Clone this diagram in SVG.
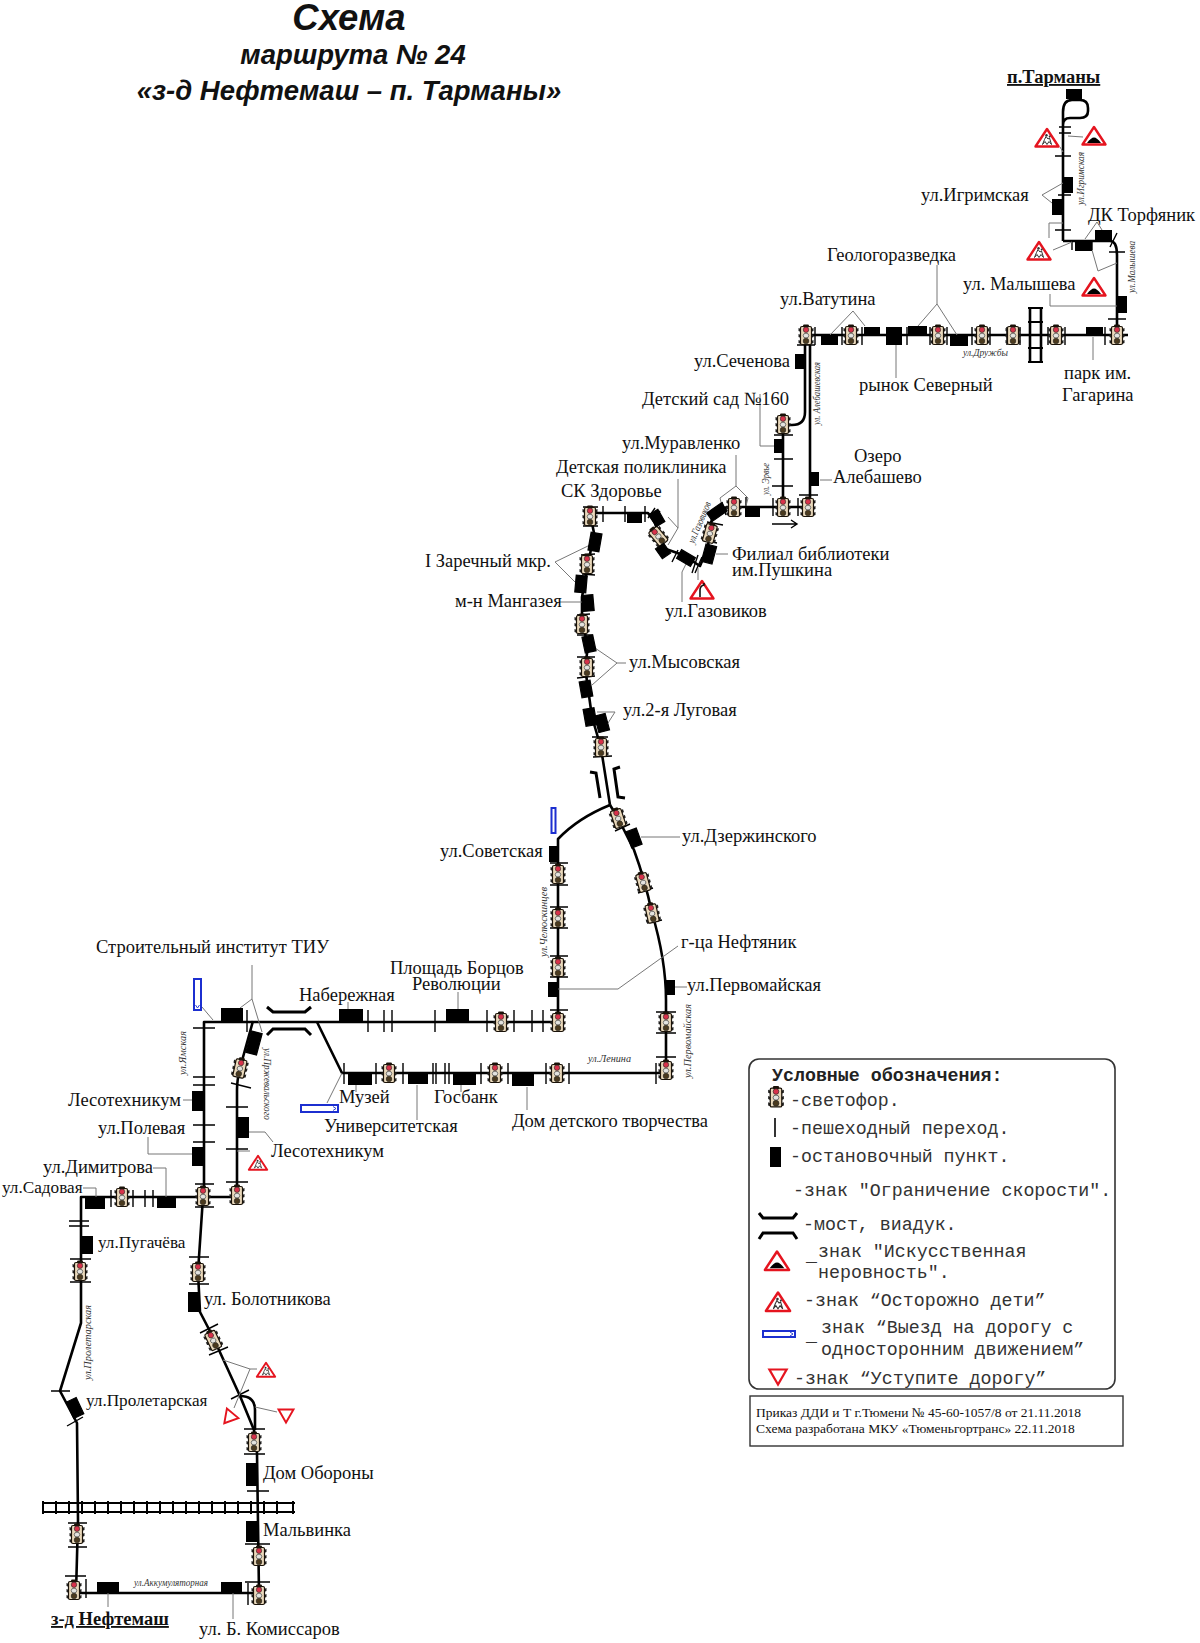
<svg xmlns="http://www.w3.org/2000/svg" width="1200" height="1643" viewBox="0 0 1200 1643">
<style>
text{font-family:"Liberation Serif",serif;fill:#111}
.t{font-size:18.5px}
.t2{font-size:17.2px}
.h{font-family:"Liberation Sans",sans-serif;font-weight:bold;font-style:italic;font-size:27.5px;text-anchor:middle}
.b{font-size:18.5px;font-weight:bold;text-decoration:underline}
.i{font-size:10.5px;font-style:italic;fill:#333}
.m{font-family:"Liberation Mono",monospace;font-size:18.3px;fill:#333}
.o{font-size:13.5px}
.r{fill:none;stroke:#000;stroke-width:2.6;stroke-linejoin:round}
.r2{fill:none;stroke:#000;stroke-width:2}
.x{fill:none;stroke:#000;stroke-width:1.4}
.g{fill:none;stroke:#777;stroke-width:1}
.v{fill:none;stroke:#000;stroke-width:3}
.s{fill:#000}
.sr{stroke:#000;stroke-width:1.2}
.bl{fill:#fff;stroke:#1c2fd0;stroke-width:2}
.bla{fill:none;stroke:#1c2fd0;stroke-width:.9}
</style>
<defs>
<g id="tl">
<path d="M-7.500 -7l2.500 1v3l-2.500-1zM7.500 -7l-2.500 1v3l2.500-1zM-7.500 -1l2.500 1v3l-2.500-1zM7.500 -1l-2.500 1v3l2.500-1zM-7.500 5l2.500 1v3l-2.500-1zM7.500 5l-2.500 1v3l2.500-1z" fill="#222"/>
<rect x="-5.500" y="-8.500" width="11" height="18" rx="1.500" fill="#ead9bb" stroke="#1a1208" stroke-width="1.2"/>
<rect x="-3" y="-10.500" width="6" height="3" rx="1.200" fill="#1a1208"/>
<circle cx="0" cy="-5.200" r="2.700" fill="#d8324a" stroke="#222" stroke-width=".6"/>
<ellipse cx="0" cy="0.600" rx="2.800" ry="2.400" fill="#e3e3df" stroke="#444" stroke-width=".7"/>
<circle cx="0" cy="6" r="2.800" fill="#4b3a1e" stroke="#222" stroke-width=".6"/>
</g>
<g id="tri"><path d="M-11.500 8.500L0 -9L11.500 8.500Z" fill="#fff" stroke="#e5141f" stroke-width="2.400" stroke-linejoin="round"/></g>
<g id="bump"><use href="#tri"/><path d="M-7 7Q-3 1.500 0 1.500Q3 1.500 7 7Z" fill="#000"/></g>
<g id="kids"><use href="#tri"/><path d="M-4.500 6.500L-2.500 1.500L-1 -1.500L1 1L2.500 0L4.500 6.500L2 3.500L0 6.500L-2 3.500Z" fill="none" stroke="#333" stroke-width="1"/><circle cx="-0.500" cy="-2.800" r="1.200" fill="#333"/><circle cx="2.700" cy="-1.400" r="1" fill="#333"/></g>
<path id="yield" d="M-7.500 -6.500H7.500L0 6.500Z" fill="#fff" stroke="#e5141f" stroke-width="1.900"/>
</defs>

<g id="title">
<text class="h" x="349" y="30" style="font-size:36.500px">Схема</text>
<text class="h" x="353" y="64">маршрута № 24</text>
<text class="h" x="349" y="100">«з-д Нефтемаш – п. Тарманы»</text>
</g>

<g id="connectors">
<g id="routes">
<path class="r" d="M1063 241V112Q1063 100 1072 100H1080Q1088 100 1088 108V111Q1088 118 1080 118H1070Q1063 118 1063 125"/>
<path class="r" d="M1063 241H1110Q1117 241 1117 255V335"/>
<path class="r" d="M1128 335H806"/>
<path class="r" d="M805 335V412Q805 425 792 425H783V507"/>
<path class="r" d="M810 335V507H727L713 515L710 527L708 547L700 566L683 555L663 548L655 523L648 513H590L594 533L582 597V620L588 647L585 667L592 717L601 748L610 805"/>
<path class="r" d="M610 805Q578 818 558 839V1022"/>
<path class="r" d="M610 805L618 818L634 850Q645 880 652 913Q666 960 666 1000V1073H342L317 1022"/>
<path class="r" d="M558 1022H204V1197"/>
<path class="r" d="M253 1021L240 1068Q237 1080 237 1090V1197H81V1323L60 1391L77 1423L78 1520L76 1593"/>
<path class="r" d="M76 1593H259L257 1453L254 1430L240 1396L213 1337L200 1312L198 1272L203 1197"/>
<path class="r" d="M240 1396Q255 1396 255 1410V1430"/>
</g>
<g id="crossings">
<path class="x" d="M1059 127H1071M1059 133H1071M1055 156H1071M1058 195H1071M1055 230H1071M1072 240V250M1092 240V250M1110 247L1117 233M1109 252H1125M1108 319H1126"/>
<path class="x" d="M815 327V345M842 327V345M862 327V345M907 327V345M930 327V345M947 327V345M972 327V345M990 327V345M1007 327V345M1020 327V345M1048 327V345M1065 327V345M1105 327V345M797 345H815"/>
<path class="x" d="M774 435H793M774 459H793M772 486H793M799 495H818M746 497V515M773 498V516M798 498V516M603 506V522M625 506V522M645 506V522M648 518L655 508M653 521L660 511M707 522L723 525M703 540L717 543M672 562L678 550M692 573L698 555M695 573L702 557M722 502L726 515"/>
<path class="x" d="M583 507H598M583 526H598M581 555L595 554M582 574L595 575M577 615L590 614M577 635L593 635M577 657L595 657M577 678L595 676M592 737L608 737M593 757L612 756"/>
<path class="x" d="M615 831L630 824M638 893L653 888M647 923L662 920"/>
<path class="x" d="M550 863H568M550 885H568M550 907H568M550 928H568M550 956H568M550 977H568M550 1010H568M656 1012H676M656 1033H676M656 1057H676"/>
<path class="x" d="M368 1010V1032M384 1010V1032M392 1010V1032M435 1010V1032M487 1010V1032M514 1010V1032M532 1010V1032M543 1010V1032M247 1010V1032"/>
<path class="x" d="M344 1063V1084M376 1063V1084M403 1063V1084M433 1063V1084M436 1063V1084M445 1063V1084M449 1063V1084M481 1063V1084M508 1063V1084M546 1063V1084M569 1063V1084M656 1063V1084"/>
<path class="x" d="M193 1028H215M193 1077H215M193 1085H215M193 1125H215M193 1142H215M195 1184H214M195 1207H214M226 1107H248M226 1149H248M226 1182H248M111 1190V1207M133 1190V1207M145 1190V1207M153 1190V1207M69 1221H89M69 1226H89M70 1259H91M70 1282H91"/>
<path class="x" d="M189 1257H209M189 1284H209M200 1333L218 1324M209 1355L228 1347M231 1399L249 1390M51 1391H70M67 1426L83 1417M244 1429H265M244 1454H265M247 1491H269M68 1523H87M68 1547H87M65 1576H86M86 1579V1598M248 1583V1605M245 1544H270M245 1582H270M231 1083L251 1088"/>
</g>
<g id="railway">
<path class="r2" d="M42 1503H295M42 1512H295M43 1501V1514M56 1501V1514M69 1501V1514M82 1501V1514M95 1501V1514M108 1501V1514M121 1501V1514M134 1501V1514M147 1501V1514M160 1501V1514M173 1501V1514M186 1501V1514M199 1501V1514M212 1501V1514M225 1501V1514M238 1501V1514M251 1501V1514M264 1501V1514M277 1501V1514M293 1501V1514"/>
<path class="r" d="M1030 308V362M1041 308V362"/>
<path class="r2" d="M1028 308H1043M1028 322H1043M1028 335H1043M1028 348H1043M1028 362H1043"/>
</g>
<g id="bridges">
<path class="v" d="M590 772L596 773L600 798M620 767L614 769L618 797L625 798"/>
<path class="v" d="M267 1007L273 1012H305L311 1007M267 1035L273 1029H305L311 1035"/>
</g>
<g id="leaders">
<path class="g" d="M1060 147L1063 152M1068 136L1083 137M1042 195L1063 183M1042 195L1052 203M1049 238V223H1063M1053 250L1072 242M1085 239L1097 222L1102 230M1092 250L1098 271L1117 263M1050 294V306H1117"/>
<path class="g" d="M830 335L853 311L865 326M937 265V304M918 326L937 304L957 335M896 345V378M1093 337V360"/>
<path class="g" d="M760 394V446H774M736 455V486M720 498L736 486L748 498M720 498L722 506M748 498L746 506M678 479V528L668 517M678 528L668 545M682 602V572L688 560M698 568V580M716 554H728M820 480H832"/>
<path class="g" d="M555 562L590 545M555 562L575 582M560 602H582M626 663H617L595 648M617 663L592 685M597 712H615L608 723"/>
<path class="g" d="M641 837H680M558 989H618L678 946M675 987H687M348 1002V1010M458 992V1010M356 1085V1092M417 1085V1120M461 1085V1092M527 1087V1110M327 1103L342 1073"/>
<path class="g" d="M202 1007L213 1020M252 965V999M240 1008L252 999L262 1032M183 1100H192M148 1137V1154H192M153 1168H166V1197M83 1188H96V1197M249 1132H265L273 1142M237 1151H250"/>
<path class="g" d="M223 1360L250 1369H257M250 1369L234 1408M255 1407L277 1412M108 1593V1607M233 1593V1619"/>
</g>
</g>

<g id="lights">
<use id="tl-1" href="#tl" x="806" y="335"/>
<use id="tl-2" href="#tl" x="851" y="335"/>
<use id="tl-3" href="#tl" x="938" y="335"/>
<use id="tl-4" href="#tl" x="982" y="335"/>
<use id="tl-5" href="#tl" x="1013" y="335"/>
<use id="tl-6" href="#tl" x="1056" y="335"/>
<use id="tl-7" href="#tl" x="1117" y="335"/>
<use id="tl-8" href="#tl" x="783" y="424"/>
<use id="tl-9" href="#tl" x="783" y="507"/>
<use id="tl-10" href="#tl" x="808" y="507"/>
<use id="tl-11" href="#tl" x="734" y="507"/>
<use id="tl-12" href="#tl" transform="translate(710 533) rotate(15)"/>
<use id="tl-13" href="#tl" transform="translate(658 536) rotate(-40)"/>
<use id="tl-14" href="#tl" x="590" y="516"/>
<use id="tl-15" href="#tl" x="587" y="564"/>
<use id="tl-16" href="#tl" x="582" y="624"/>
<use id="tl-17" href="#tl" x="587" y="667"/>
<use id="tl-18" href="#tl" x="601" y="747"/>
<use id="tl-19" href="#tl" transform="translate(618 818) rotate(-18)"/>
<use id="tl-20" href="#tl" transform="translate(643 882) rotate(-15)"/>
<use id="tl-21" href="#tl" transform="translate(652 913) rotate(-12)"/>
<use id="tl-22" href="#tl" x="558" y="874"/>
<use id="tl-23" href="#tl" x="558" y="918"/>
<use id="tl-24" href="#tl" x="558" y="967"/>
<use id="tl-25" href="#tl" x="558" y="1022"/>
<use id="tl-26" href="#tl" x="501" y="1022"/>
<use id="tl-27" href="#tl" x="666" y="1022"/>
<use id="tl-28" href="#tl" x="666" y="1070"/>
<use id="tl-29" href="#tl" x="557" y="1073"/>
<use id="tl-30" href="#tl" x="495" y="1073"/>
<use id="tl-31" href="#tl" x="389" y="1073"/>
<use id="tl-32" href="#tl" transform="translate(240 1068) rotate(12)"/>
<use id="tl-33" href="#tl" x="203" y="1196"/>
<use id="tl-34" href="#tl" x="237" y="1195"/>
<use id="tl-35" href="#tl" x="122" y="1197"/>
<use id="tl-36" href="#tl" x="80" y="1271"/>
<use id="tl-37" href="#tl" x="198" y="1272"/>
<use id="tl-38" href="#tl" transform="translate(213 1340) rotate(-25)"/>
<use id="tl-39" href="#tl" x="254" y="1442"/>
<use id="tl-40" href="#tl" x="77" y="1534"/>
<use id="tl-41" href="#tl" x="74" y="1590"/>
<use id="tl-42" href="#tl" x="259" y="1556"/>
<use id="tl-43" href="#tl" x="259" y="1595"/>
</g>

<g id="signs">
<use id="sk-1" href="#kids" transform="translate(1047 138)"/>
<use id="sb-1" href="#bump" transform="translate(1094 136)"/>
<use id="sk-2" href="#kids" transform="translate(1039 251)"/>
<use id="sb-2" href="#bump" transform="translate(1094 287)"/>
<g id="sturn"><use href="#tri" transform="translate(702 590)"/><path d="M700 597V590Q700 586 704 585V583" fill="none" stroke="#111" stroke-width="1.600"/></g>
<use id="sk-3" href="#kids" transform="translate(258 1163) scale(.8)"/>
<use id="sk-4" href="#kids" transform="translate(266 1370) scale(.8)"/>
<use id="sy-1" href="#yield" transform="translate(286 1416)"/>
<use id="sy-2" href="#yield" transform="translate(232 1417) rotate(-80)"/>
<g id="sblue-1"><rect class="bl" x="194" y="979" width="7" height="31"/><path class="bla" d="M195.500 1005L197.500 1008L199.500 1005"/></g>
<g id="sblue-2"><rect class="bl" x="551.500" y="808" width="4" height="25"/></g>
<g id="sblue-3"><rect class="bl" x="301" y="1105" width="37" height="7"/><path class="bla" d="M333 1106.500L336 1108.500L333 1110.500"/></g>
<path id="arrow" class="x" d="M772 524H797M791 520L797 524L791 528"/>
</g>

<g id="stops">
<g id="stop-tarmany"><rect class="s" x="1066" y="89" width="16" height="10"/><text class="b" x="1007" y="83">п.Тарманы</text></g>
<g id="stop-igrim"><rect class="s" x="1063" y="177" width="10" height="16"/><rect class="s" x="1052" y="199" width="11" height="16"/><text class="t" x="921" y="201">ул.Игримская</text></g>
<g id="stop-dk"><rect class="s" x="1075" y="240" width="17" height="11"/><rect class="s" x="1095" y="230" width="17" height="11"/><text class="t" x="1088" y="221">ДК Торфяник</text></g>
<g id="stop-malysheva"><rect class="s" x="1117" y="296" width="10" height="17"/><text class="t" x="963" y="290">ул. Малышева</text></g>
<g id="stop-vatutina"><rect class="s" x="821" y="336" width="17" height="9"/><rect class="s" x="864" y="327" width="16" height="9"/><text class="t" x="780" y="305">ул.Ватутина</text></g>
<g id="stop-rynok"><rect class="s" x="886" y="327" width="16" height="18"/><text class="t" x="859" y="391">рынок Северный</text></g>
<g id="stop-geolog"><rect class="s" x="908" y="326" width="19" height="10"/><rect class="s" x="950" y="336" width="18" height="10"/><text class="t" x="827" y="261">Геологоразведка</text></g>
<g id="stop-park"><rect class="s" x="1086" y="327" width="17" height="9"/><text class="t" x="1064" y="379">парк им.</text><text class="t" x="1062" y="401">Гагарина</text></g>
<g id="stop-sechenova"><rect class="s" x="795" y="354" width="10" height="15"/><text class="t" x="694" y="367">ул.Сеченова</text></g>
<g id="stop-sad160"><rect class="s" x="774" y="439" width="10" height="14"/><text class="t" x="642" y="405">Детский сад №160</text></g>
<g id="stop-ozero"><rect class="s" x="809" y="472" width="10" height="14"/><text class="t" x="854" y="462">Озеро</text><text class="t" x="833" y="483">Алебашево</text></g>
<g id="stop-muravlenko"><rect class="s" x="745" y="506" width="15" height="11"/><rect class="s sr" transform="rotate(-35 717 512)" x="708" y="507" width="18" height="10"/><text class="t" x="622" y="449">ул.Муравленко</text></g>
<g id="stop-filial"><rect class="s sr" transform="rotate(15 709 554)" x="703.500" y="545" width="11" height="18"/><text class="t" x="732" y="560">Филиал библиотеки</text><text class="t" x="732" y="576">им.Пушкина</text></g>
<g id="stop-gaz"><rect class="s sr" transform="rotate(30 686 558)" x="678" y="553" width="16" height="10"/><text class="t" x="665" y="617">ул.Газовиков</text></g>
<g id="stop-detpol"><rect class="s sr" transform="rotate(-35 663 551)" x="658" y="545" width="10" height="12"/><rect class="s sr" transform="rotate(-30 657 518)" x="652" y="511" width="10" height="14"/><text class="t" x="556" y="473">Детская поликлиника</text></g>
<g id="stop-sk"><rect class="s" x="627" y="513" width="15" height="10"/><text class="t" x="561" y="497">СК Здоровье</text></g>
<g id="stop-zarech"><rect class="s sr" transform="rotate(10 595 542)" x="589.500" y="533" width="11" height="18"/><rect class="s sr" transform="rotate(5 581 584)" x="575.500" y="575.500" width="11" height="17"/><text class="t" x="425" y="567">I Заречный мкр.</text></g>
<g id="stop-mangazeya"><rect class="s sr" transform="rotate(-5 588 603)" x="582.500" y="595" width="11" height="16"/><text class="t" x="455" y="607">м-н Мангазея</text></g>
<g id="stop-mysovskaya"><rect class="s sr" transform="rotate(-12 589 644)" x="583.500" y="636" width="11" height="16"/><rect class="s sr" transform="rotate(-10 586 689)" x="580.500" y="681" width="11" height="16"/><text class="t" x="629" y="668">ул.Мысовская</text></g>
<g id="stop-lugovaya"><rect class="s sr" transform="rotate(-10 590 717)" x="584.500" y="708.500" width="11" height="17"/><rect class="s sr" transform="rotate(-15 602 723)" x="596.500" y="714.500" width="11" height="17"/><text class="t" x="623" y="716">ул.2-я Луговая</text></g>
<g id="stop-sovetskaya"><rect class="s" x="549" y="846" width="9" height="16"/><text class="t" x="440" y="857">ул.Советская</text></g>
<g id="stop-dzerzh"><rect class="s sr" transform="rotate(-20 634 838)" x="628.500" y="829.500" width="11" height="17"/><text class="t" x="682" y="842">ул.Дзержинского</text></g>
<g id="stop-neftyanik"><rect class="s" x="548" y="982" width="10" height="15"/><text class="t" x="681" y="948">г-ца Нефтяник</text></g>
<g id="stop-pervomay"><rect class="s" x="665" y="980" width="10" height="15"/><text class="t" x="687" y="991">ул.Первомайская</text></g>
<g id="stop-ploshad"><rect class="s" x="446" y="1009" width="23" height="12"/><text class="t" x="390" y="974">Площадь Борцов</text><text class="t" x="412" y="990">Революции</text></g>
<g id="stop-nab"><rect class="s" x="339" y="1009" width="24" height="12"/><text class="t" x="299" y="1001">Набережная</text></g>
<g id="stop-muzey"><rect class="s" x="348" y="1073" width="24" height="12"/><text class="t" x="339" y="1103">Музей</text></g>
<g id="stop-univer"><rect class="s" x="408" y="1073" width="20" height="11"/><text class="t" x="324" y="1132">Университетская</text></g>
<g id="stop-gosbank"><rect class="s" x="453" y="1073" width="23" height="12"/><text class="t" x="434" y="1103">Госбанк</text></g>
<g id="stop-ddt"><rect class="s" x="512" y="1073" width="22" height="13"/><text class="t" x="512" y="1127">Дом детского творчества</text></g>
<g id="stop-stroy"><rect class="s" x="221" y="1008" width="22" height="13"/><rect class="s sr" transform="rotate(15 254 1043)" x="248.500" y="1032" width="11" height="22"/><text class="t" x="96" y="953">Строительный институт ТИУ</text></g>
<g id="stop-les1"><rect class="s" x="192" y="1091" width="12" height="20"/><text class="t" x="68" y="1106">Лесотехникум</text></g>
<g id="stop-poleva"><rect class="s" x="192" y="1147" width="12" height="19"/><text class="t" x="98" y="1134">ул.Полевая</text></g>
<g id="stop-les2"><rect class="s" x="237" y="1117" width="12" height="21"/><text class="t" x="271" y="1157">Лесотехникум</text></g>
<g id="stop-dimitrova"><rect class="s" x="157" y="1197" width="19" height="11"/><text class="t" x="43" y="1173">ул.Димитрова</text></g>
<g id="stop-sadovaya"><rect class="s" x="85" y="1197" width="20" height="12"/><text class="t2" x="2" y="1193">ул.Садовая</text></g>
<g id="stop-pugach"><rect class="s" x="80" y="1236" width="13" height="18"/><text class="t2" x="98" y="1248">ул.Пугачёва</text></g>
<g id="stop-bolot"><rect class="s" x="188" y="1292" width="12" height="20"/><text class="t" x="204" y="1305">ул. Болотникова</text></g>
<g id="stop-prolet"><rect class="s sr" transform="rotate(-25 75 1408)" x="69.500" y="1399" width="11" height="18"/><text class="t2" x="86" y="1406">ул.Пролетарская</text></g>
<g id="stop-oborony"><rect class="s" x="246" y="1463" width="11" height="23"/><text class="t" x="263" y="1479">Дом Обороны</text></g>
<g id="stop-malvinka"><rect class="s" x="246" y="1521" width="12" height="21"/><text class="t" x="263" y="1536">Мальвинка</text></g>
<g id="stop-neftemash"><rect class="s" x="97" y="1582" width="22" height="11"/><text class="b" x="51" y="1625">з-д Нефтемаш</text></g>
<g id="stop-komissar"><rect class="s" x="221" y="1582" width="21" height="11"/><text class="t" x="199" y="1635">ул. Б. Комиссаров</text></g>
</g>

<g id="street-labels">
<text class="i" transform="translate(1084 205) rotate(-90)" textLength="53" lengthAdjust="spacingAndGlyphs">ул.Игримская</text>
<text class="i" transform="translate(1135 293) rotate(-90)" textLength="52" lengthAdjust="spacingAndGlyphs">ул.Малышева</text>
<text class="i" x="963" y="356" textLength="45" lengthAdjust="spacingAndGlyphs">ул.Дружбы</text>
<text class="i" transform="translate(820 425) rotate(-90)" textLength="63" lengthAdjust="spacingAndGlyphs">ул. Алебашевская</text>
<text class="i" transform="translate(769 495) rotate(-90)" textLength="32" lengthAdjust="spacingAndGlyphs">ул. Эрвье</text>
<text class="i" transform="translate(694 544) rotate(-67)" textLength="44" lengthAdjust="spacingAndGlyphs">ул.Газовиков</text>
<text class="i" transform="translate(547 957) rotate(-90)" textLength="70" lengthAdjust="spacingAndGlyphs">ул.Челюскинцев</text>
<text class="i" x="588" y="1062" textLength="43" lengthAdjust="spacingAndGlyphs">ул.Ленина</text>
<text class="i" transform="translate(691 1078) rotate(-90)" textLength="74" lengthAdjust="spacingAndGlyphs">ул.Первомайская</text>
<text class="i" transform="translate(186 1075) rotate(-90)" textLength="44" lengthAdjust="spacingAndGlyphs">ул.Ямская</text>
<text class="i" transform="translate(264 1048) rotate(90)" textLength="72" lengthAdjust="spacingAndGlyphs">ул.Пржевальского</text>
<text class="i" transform="translate(91 1380) rotate(-90)" textLength="75" lengthAdjust="spacingAndGlyphs">ул.Пролетарская</text>
<text class="i" x="134" y="1586" textLength="74" lengthAdjust="spacingAndGlyphs">ул.Аккумуляторная</text>
</g>

<g id="legend">
<rect x="749" y="1059" width="366" height="330" rx="10" fill="none" stroke="#333" stroke-width="1.600"/>
<text class="m" x="772" y="1081" style="font-weight:bold;fill:#222">Условные обозначения:</text>
<use href="#tl" transform="translate(776 1097) scale(1.05)"/>
<text class="m" x="790" y="1106">-светофор.</text>
<path d="M775 1118V1137" stroke="#000" stroke-width="1.600"/>
<text class="m" x="790" y="1134">-пешеходный переход.</text>
<rect class="s" x="770" y="1147" width="11" height="20"/>
<text class="m" x="790" y="1162">-остановочный пункт.</text>
<text class="m" x="793" y="1196">-знак "Ограничение скорости".</text>
<path class="v" d="M759 1213L763 1218H793L797 1213M759 1239L763 1233H793L797 1239"/>
<text class="m" x="803" y="1230">-мост, виадук.</text>
<use href="#bump" transform="translate(777 1261) scale(1.05)"/>
<text class="m" x="806" y="1261">_</text>
<text class="m" x="818" y="1257">знак "Искусственная</text>
<text class="m" x="818" y="1278">неровность".</text>
<use href="#kids" transform="translate(778 1302) scale(1.05)"/>
<text class="m" x="804" y="1306">-знак “Осторожно дети”</text>
<rect class="bl" x="763" y="1331" width="32" height="6"/>
<path class="bla" d="M790 1332L793 1334L790 1336"/>
<text class="m" x="806" y="1341">_</text>
<text class="m" x="821" y="1333">знак “Выезд на дорогу с</text>
<text class="m" x="821" y="1355">односторонним движением”</text>
<use href="#yield" transform="translate(778 1377) scale(1.15)"/>
<text class="m" x="794" y="1384">-знак “Уступите дорогу”</text>
</g>
<g id="order-note">
<rect x="750" y="1396" width="373" height="50" fill="#fff" stroke="#333" stroke-width="1.400"/>
<text class="o" x="756" y="1417">Приказ ДДИ и Т г.Тюмени № 45-60-1057/8 от 21.11.2018</text>
<text class="o" x="756" y="1433">Схема разработана МКУ «Тюменьгортранс» 22.11.2018</text>
</g>
</svg>
